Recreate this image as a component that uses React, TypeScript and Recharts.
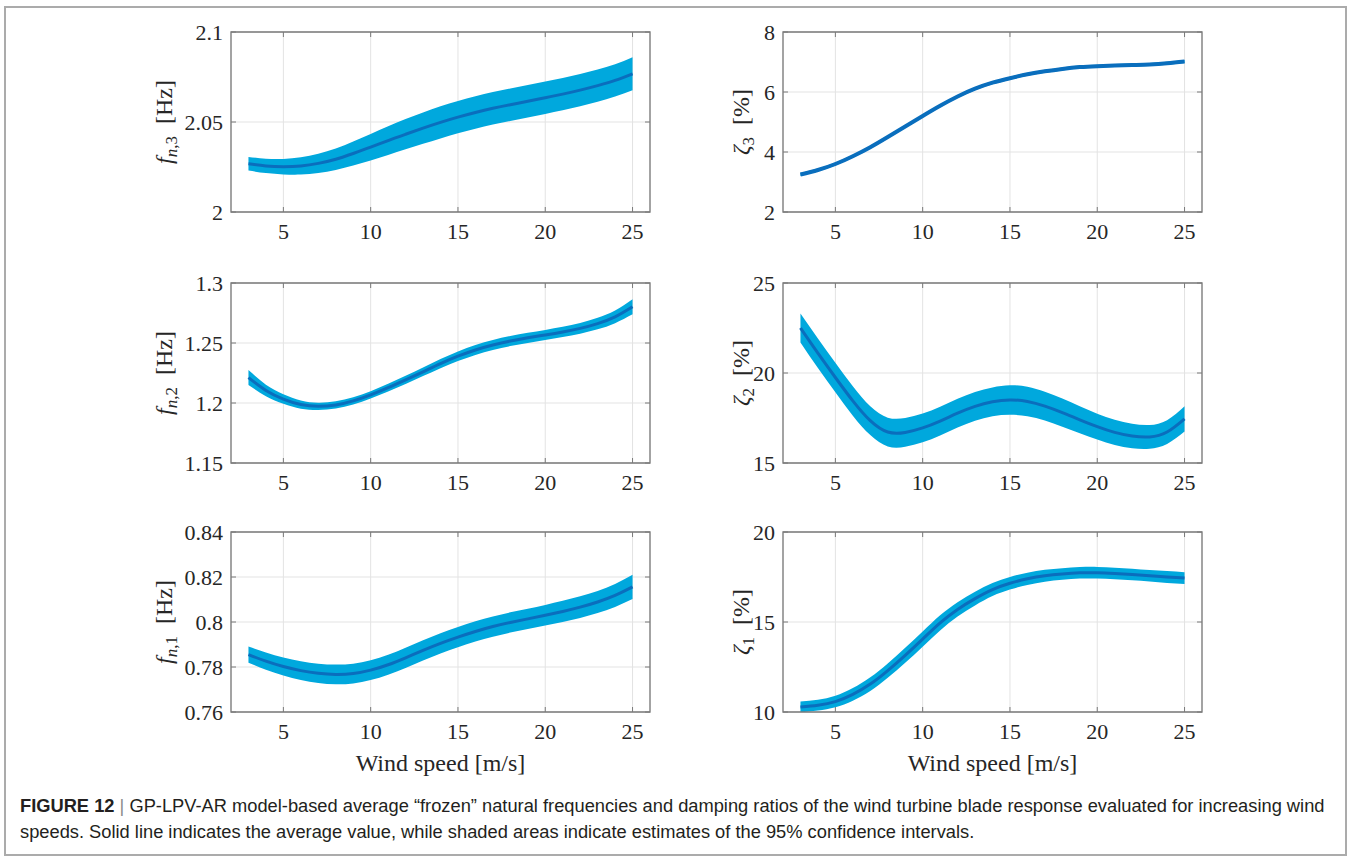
import React from 'react';
import { ComposedChart, Area, Line, XAxis, YAxis, CartesianGrid, ReferenceArea } from 'recharts';

// ---------- data ----------
const windSpeed = [3, 4, 5, 6, 7, 8, 9, 10, 11, 12, 13, 14, 15, 16, 17, 18, 19, 20, 21, 22, 23, 24, 25];

const fn3Mean = [2.0268, 2.0256, 2.0252, 2.0256, 2.027, 2.0293, 2.0325, 2.036, 2.0397, 2.0432, 2.0466, 2.0498, 2.0527, 2.0553, 2.0576, 2.0596, 2.0615, 2.0635, 2.0655, 2.0677, 2.0702, 2.0731, 2.0768];
const fn3Half = [0.0038, 0.004, 0.0043, 0.0048, 0.0054, 0.006, 0.0067, 0.0074, 0.008, 0.0084, 0.0087, 0.0089, 0.009, 0.009, 0.009, 0.009, 0.009, 0.009, 0.009, 0.009, 0.009, 0.009, 0.0092];

const zeta3Mean = [3.25, 3.4, 3.6, 3.86, 4.16, 4.5, 4.85, 5.2, 5.54, 5.85, 6.11, 6.31, 6.46, 6.59, 6.69, 6.77, 6.83, 6.86, 6.88, 6.9, 6.92, 6.96, 7.02];
const zeta3Half = [0.05, 0.05, 0.05, 0.05, 0.05, 0.05, 0.05, 0.05, 0.05, 0.05, 0.05, 0.05, 0.05, 0.05, 0.05, 0.05, 0.05, 0.05, 0.05, 0.05, 0.05, 0.05, 0.05];

const fn2Mean = [1.2212, 1.2105, 1.2033, 1.1987, 1.1972, 1.1984, 1.2018, 1.2068, 1.2128, 1.2193, 1.226, 1.2328, 1.239, 1.2442, 1.2483, 1.2516, 1.2543, 1.2567, 1.2592, 1.2622, 1.2662, 1.2718, 1.2802];
const fn2Half = [0.0062, 0.0048, 0.004, 0.0034, 0.003, 0.003, 0.003, 0.003, 0.0032, 0.0034, 0.0036, 0.0038, 0.004, 0.0041, 0.0042, 0.0042, 0.0042, 0.0042, 0.0043, 0.0045, 0.0048, 0.0053, 0.0063];

const zeta2Mean = [22.5, 21.1, 19.75, 18.45, 17.35, 16.72, 16.7, 16.95, 17.33, 17.77, 18.15, 18.4, 18.5, 18.42, 18.16, 17.8, 17.4, 17.02, 16.7, 16.5, 16.45, 16.72, 17.45];
const zeta2Half = [0.8, 0.82, 0.82, 0.82, 0.8, 0.8, 0.8, 0.8, 0.8, 0.8, 0.8, 0.8, 0.82, 0.82, 0.8, 0.78, 0.75, 0.72, 0.7, 0.68, 0.66, 0.66, 0.7];

const fn1Mean = [0.7855, 0.7826, 0.7802, 0.7784, 0.7772, 0.7767, 0.7771, 0.7786, 0.781, 0.7841, 0.7874, 0.7905, 0.7933, 0.7958, 0.798, 0.7998, 0.8014, 0.803, 0.8047, 0.8066, 0.8089, 0.8118, 0.8156];
const fn1Half = [0.0036, 0.0038, 0.004, 0.0042, 0.0043, 0.0044, 0.0044, 0.0044, 0.0044, 0.0045, 0.0045, 0.0045, 0.0045, 0.0045, 0.0045, 0.0045, 0.0045, 0.0046, 0.0047, 0.0048, 0.0049, 0.0051, 0.0054];

const zeta1Mean = [10.28, 10.38, 10.58, 10.98, 11.55, 12.3, 13.15, 14.05, 14.95, 15.7, 16.3, 16.8, 17.15, 17.4, 17.57, 17.67, 17.73, 17.74, 17.7, 17.64, 17.57, 17.5, 17.44];
const zeta1Half = [0.3, 0.3, 0.32, 0.35, 0.38, 0.4, 0.42, 0.42, 0.42, 0.4, 0.38, 0.36, 0.35, 0.34, 0.33, 0.32, 0.32, 0.32, 0.32, 0.32, 0.32, 0.33, 0.33];

const xTicks = [5, 10, 15, 20, 25];
const xDomain: [number, number] = [2, 26];
const fn3Ticks = [2, 2.05, 2.1];
const zeta3Ticks = [2, 4, 6, 8];
const fn2Ticks = [1.15, 1.2, 1.25, 1.3];
const zeta2Ticks = [15, 20, 25];
const fn1Ticks = [0.76, 0.78, 0.8, 0.82, 0.84];
const zeta1Ticks = [10, 15, 20];

const xLabelText = 'Wind speed [m/s]';

// ---------- styles ----------
const SERIF = '"Liberation Serif", "Times New Roman", serif';
const SANS = '"Liberation Sans", Arial, sans-serif';
const BAND = '#00a8dd';
const LINE = '#0a6ebd';
const FRAME = '#7a7a7a';
const GRID = '#e3e3e3';
const TEXT = '#262626';

const PLOT_W = 419;
const PLOT_H = 180;
const MT = 22;
const M = 10;
const YW = 70;
const XH = 40;
const CW = M + YW + PLOT_W + M;
const CH = MT + PLOT_H + XH + M;

function buildData(mean: number[], half: number[]) {
  return windSpeed.map((x, i) => ({ x, mean: mean[i], band: [mean[i] - half[i], mean[i] + half[i]] }));
}

const XTick = (props: any) => {
  const { x, y, payload } = props;
  return (
    <g>
      <line x1={x} y1={y} x2={x} y2={y - 5} stroke={FRAME} strokeWidth={1} />
      <line x1={x} y1={y - PLOT_H} x2={x} y2={y - PLOT_H + 5} stroke={FRAME} strokeWidth={1} />
      <text x={x} y={y + 27} textAnchor="middle" fontSize={22} fill={TEXT} fontFamily={SERIF}>
        {String(payload.value)}
      </text>
    </g>
  );
};

const YTick = (props: any) => {
  const { x, y, payload } = props;
  return (
    <g>
      <line x1={x} y1={y} x2={x + 5} y2={y} stroke={FRAME} strokeWidth={1} />
      <line x1={x + PLOT_W} y1={y} x2={x + PLOT_W - 5} y2={y} stroke={FRAME} strokeWidth={1} />
      <text x={x - 8} y={y} dy="0.35em" textAnchor="end" fontSize={22} fill={TEXT} fontFamily={SERIF}>
        {String(payload.value)}
      </text>
    </g>
  );
};

type PanelProps = {
  plotLeft: number;
  plotTop: number;
  mean: number[];
  half: number[];
  yTicks: number[];
  ylabel: React.ReactNode;
  ylabelX: number;
  showXLabel: boolean;
  lineWidth?: number;
};

function Panel({ plotLeft, plotTop, mean, half, yTicks, ylabel, ylabelX, showXLabel, lineWidth = 3 }: PanelProps) {
  const data = buildData(mean, half);
  const yDomain: [number, number] = [yTicks[0], yTicks[yTicks.length - 1]];
  return (
    <>
      <div style={{ position: 'absolute', left: plotLeft - M - YW, top: plotTop - MT }}>
        <ComposedChart width={CW} height={CH} data={data} margin={{ top: MT, right: M, bottom: M, left: M }}>
          <CartesianGrid stroke={GRID} strokeWidth={1} />
          <XAxis
            dataKey="x"
            type="number"
            domain={xDomain}
            ticks={xTicks}
            interval={0}
            height={XH}
            tickSize={0}
            tickMargin={0}
            tickLine={false}
            axisLine={false}
            tick={XTick}
            allowDataOverflow
          />
          <YAxis
            type="number"
            domain={yDomain}
            ticks={yTicks}
            interval={0}
            width={YW}
            tickSize={0}
            tickMargin={0}
            tickLine={false}
            axisLine={false}
            tick={YTick}
            allowDataOverflow
          />
          <Area
            dataKey="band"
            type="natural"
            fill={BAND}
            fillOpacity={1}
            stroke="none"
            isAnimationActive={false}
            activeDot={false}
          />
          <Line
            dataKey="mean"
            type="natural"
            stroke={LINE}
            strokeWidth={lineWidth}
            dot={false}
            activeDot={false}
            isAnimationActive={false}
          />
          <ReferenceArea
            x1={xDomain[0]}
            x2={xDomain[1]}
            y1={yDomain[0]}
            y2={yDomain[1]}
            fill="none"
            fillOpacity={0}
            stroke={FRAME}
            strokeWidth={1.3}
          />
        </ComposedChart>
      </div>
      <div
        style={{
          position: 'absolute',
          left: ylabelX,
          top: plotTop + PLOT_H / 2,
          transform: 'translate(-50%, -50%) rotate(-90deg)',
          whiteSpace: 'nowrap',
          fontFamily: SERIF,
          fontSize: 24,
          color: TEXT,
          lineHeight: 1,
        }}
      >
        {ylabel}
      </div>
      {showXLabel && (
        <div
          style={{
            position: 'absolute',
            left: plotLeft + PLOT_W / 2,
            top: plotTop + PLOT_H + 51,
            transform: 'translate(-50%, -50%)',
            whiteSpace: 'nowrap',
            fontFamily: SERIF,
            fontSize: 24,
            color: TEXT,
            lineHeight: 1,
          }}
        >
          {xLabelText}
        </div>
      )}
    </>
  );
}

const subStyle: React.CSSProperties = { fontSize: 17, verticalAlign: '-0.3em', lineHeight: 0 };

const FLabel = ({ k }: { k: string }) => (
  <span>
    <i>f</i>
    <span style={subStyle}>
      <i>n</i>,{k}
    </span>
    <span>&nbsp;&nbsp;[Hz]</span>
  </span>
);

const ZLabel = ({ k }: { k: string }) => (
  <span>
    <i>ζ</i>
    <span style={subStyle}>{k}</span>
    <span>&nbsp;&nbsp;[%]</span>
  </span>
);

const LEFT_X = 231;
const RIGHT_X = 783;
const ROW_Y = [32, 283, 532];

export default function App() {
  return (
    <div style={{ position: 'absolute', left: 0, top: 0, width: 1352, height: 861, background: '#ffffff', overflow: 'hidden' }}>
      <div
        style={{
          position: 'absolute',
          left: 4,
          top: 6,
          width: 1343,
          height: 850,
          border: '2px solid #ababab',
          boxSizing: 'border-box',
        }}
      />
      <Panel plotLeft={LEFT_X} plotTop={ROW_Y[0]} mean={fn3Mean} half={fn3Half} yTicks={fn3Ticks} ylabel={<FLabel k="3" />} ylabelX={164} showXLabel={false} />
      <Panel plotLeft={RIGHT_X} plotTop={ROW_Y[0]} mean={zeta3Mean} half={zeta3Half} yTicks={zeta3Ticks} ylabel={<ZLabel k="3" />} ylabelX={741} showXLabel={false} lineWidth={4} />
      <Panel plotLeft={LEFT_X} plotTop={ROW_Y[1]} mean={fn2Mean} half={fn2Half} yTicks={fn2Ticks} ylabel={<FLabel k="2" />} ylabelX={164} showXLabel={false} />
      <Panel plotLeft={RIGHT_X} plotTop={ROW_Y[1]} mean={zeta2Mean} half={zeta2Half} yTicks={zeta2Ticks} ylabel={<ZLabel k="2" />} ylabelX={741} showXLabel={false} />
      <Panel plotLeft={LEFT_X} plotTop={ROW_Y[2]} mean={fn1Mean} half={fn1Half} yTicks={fn1Ticks} ylabel={<FLabel k="1" />} ylabelX={164} showXLabel={true} />
      <Panel plotLeft={RIGHT_X} plotTop={ROW_Y[2]} mean={zeta1Mean} half={zeta1Half} yTicks={zeta1Ticks} ylabel={<ZLabel k="1" />} ylabelX={741} showXLabel={true} />
      <div
        style={{
          position: 'absolute',
          left: 20,
          top: 793,
          width: 1325,
          fontFamily: SANS,
          fontSize: 18.3,
          lineHeight: '26px',
          color: '#231f20',
          whiteSpace: 'nowrap',
        }}
      >
        <b>FIGURE 12</b>
        <span style={{ color: '#8a8a8a' }}> | </span>
        GP-LPV-AR model-based average “frozen” natural frequencies and damping ratios of the wind turbine blade response evaluated for increasing wind
        <br />
        speeds. Solid line indicates the average value, while shaded areas indicate estimates of the 95% confidence intervals.
      </div>
    </div>
  );
}
